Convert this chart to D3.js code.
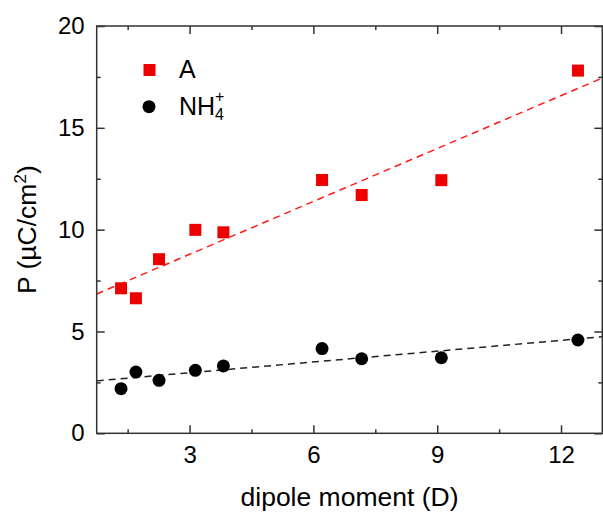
<!DOCTYPE html>
<html>
<head>
<meta charset="utf-8">
<script src="https://cdn.jsdelivr.net/npm/d3@7"></script>
<style>
  body { margin: 0; background: #fff; }
  text { font-family: "Liberation Sans", Arial, sans-serif; }
</style>
</head>
<body>
<svg id="chart"></svg>
<script>
// dipole moment (D), same for both series
const dipole = [1.34, 1.70, 2.26, 3.14, 3.82, 6.21, 7.17, 9.10, 12.41];
const pA = [7.12, 6.63, 8.55, 9.99, 9.87, 12.44, 11.70, 12.43, 17.81];
const pNH4 = [2.19, 3.01, 2.60, 3.09, 3.31, 4.16, 3.66, 3.71, 4.58];
const xMajor = [3, 6, 9, 12];
const xMinor = [1.5, 4.5, 7.5, 10.5];
const yMajor = [0, 5, 10, 15, 20];
const yMinor = [2.5, 7.5, 12.5, 17.5];

const width = 603, height = 512;
const pLeft = 96.7, pRight = 602.3, pTop = 26, pBottom = 433.3;
const axisColor = "#333";

const svg = d3.select("#chart").attr("width", width).attr("height", height);

const x = d3.scaleLinear().domain([0.75, 13]).range([pLeft, pRight]);
const y = d3.scaleLinear().domain([0, 20]).range([pBottom, pTop]);

// least squares fit
function fit(xs, ys) {
    const mx = d3.mean(xs), my = d3.mean(ys);
    let sxy = 0, sxx = 0;
    xs.forEach((v, i) => { sxy += (v - mx) * (ys[i] - my); sxx += (v - mx) * (v - mx); });
    const b = sxy / sxx;
    return { a: my - b * mx, b: b };
}

svg.append("clipPath").attr("id", "clip")
    .append("rect").attr("x", pLeft).attr("y", pTop).attr("width", pRight - pLeft).attr("height", pBottom - pTop);

const lines = svg.append("g").attr("clip-path", "url(#clip)");
[[pA, "#ff1a1a"], [pNH4, "#222"]].forEach(([ys, col]) => {
    const f = fit(dipole, ys);
    lines.append("path")
        .attr("d", d3.line(d => x(d), d => y(f.a + f.b * d))(x.domain()))
        .attr("fill", "none")
        .attr("stroke", col)
        .attr("stroke-width", 1.5)
        .attr("stroke-dasharray", "7,5");
});

// axes
function addAxis(axis, tx, ty) {
    const g = svg.append("g").attr("transform", `translate(${tx},${ty})`).call(axis);
    g.selectAll("path, line").attr("stroke", axisColor).attr("stroke-width", 1.5);
    g.select(".domain").remove();
    return g;
}
const bx = addAxis(d3.axisBottom(x).tickValues(xMajor).tickSizeInner(-8).tickSizeOuter(0).tickPadding(13), 0, pBottom);
bx.selectAll("text").attr("font-size", 24).attr("fill", "#000");
addAxis(d3.axisBottom(x).tickValues(xMinor).tickSizeInner(-4).tickSizeOuter(0).tickFormat(""), 0, pBottom);
addAxis(d3.axisTop(x).tickValues(xMajor).tickSizeInner(-8).tickSizeOuter(0).tickFormat(""), 0, pTop);
addAxis(d3.axisTop(x).tickValues(xMinor).tickSizeInner(-4).tickSizeOuter(0).tickFormat(""), 0, pTop);

const ly = addAxis(d3.axisLeft(y).tickValues(yMajor).tickSizeInner(-8).tickSizeOuter(0).tickPadding(12), pLeft, 0);
ly.selectAll("text").attr("font-size", 24).attr("fill", "#000");
addAxis(d3.axisLeft(y).tickValues(yMinor).tickSizeInner(-4).tickSizeOuter(0).tickFormat(""), pLeft, 0);
addAxis(d3.axisRight(y).tickValues(yMajor).tickSizeInner(-8).tickSizeOuter(0).tickFormat(""), pRight, 0);
addAxis(d3.axisRight(y).tickValues(yMinor).tickSizeInner(-4).tickSizeOuter(0).tickFormat(""), pRight, 0);

svg.append("rect")
    .attr("x", pLeft).attr("y", pTop)
    .attr("width", pRight - pLeft).attr("height", pBottom - pTop)
    .attr("fill", "none").attr("stroke", axisColor).attr("stroke-width", 1.5);

// points
svg.append("g").selectAll("rect")
    .data(dipole.map((d, i) => [d, pA[i]]))
    .join("rect")
    .attr("x", d => x(d[0]) - 6).attr("y", d => y(d[1]) - 6)
    .attr("width", 12).attr("height", 12)
    .attr("fill", "#ee0000");

svg.append("g").selectAll("circle")
    .data(dipole.map((d, i) => [d, pNH4[i]]))
    .join("circle")
    .attr("cx", d => x(d[0])).attr("cy", d => y(d[1]))
    .attr("r", 6.5)
    .attr("fill", "#000");

// legend
svg.append("rect").attr("x", 143.5).attr("y", 64).attr("width", 12).attr("height", 12).attr("fill", "#ee0000");
svg.append("text").attr("x", 179).attr("y", 78).attr("font-size", 25).text("A");
svg.append("circle").attr("cx", 149).attr("cy", 106.7).attr("r", 6.5).attr("fill", "#000");
const nh = svg.append("text").attr("x", 179).attr("y", 115).attr("font-size", 25);
nh.append("tspan").text("NH");
nh.append("tspan").attr("font-size", 16).attr("dy", 5).text("4");
nh.append("tspan").attr("font-size", 16).attr("dx", -9).attr("dy", -18).text("+");

// axis titles
svg.append("text")
    .attr("x", (pLeft + pRight) / 2).attr("y", 506)
    .attr("text-anchor", "middle").attr("font-size", 26.5)
    .text("dipole moment (D)");

const yt = svg.append("text")
    .attr("transform", `translate(36,${(pTop + pBottom) / 2}) rotate(-90)`)
    .attr("text-anchor", "middle").attr("font-size", 26.5);
yt.append("tspan").text("P (µC/cm");
yt.append("tspan").attr("font-size", 17).attr("dy", -10).text("2");
yt.append("tspan").attr("dy", 10).text(")");
</script>
</body>
</html>
